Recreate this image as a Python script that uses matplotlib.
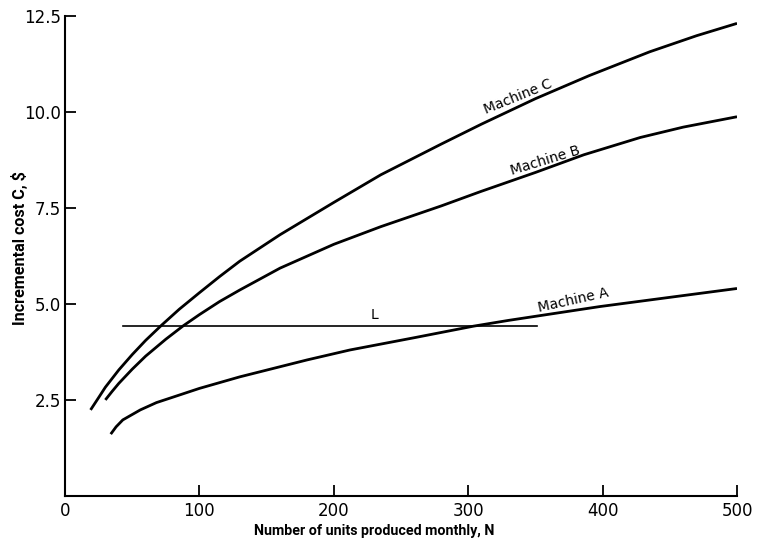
import matplotlib
matplotlib.use('Agg')
import matplotlib.pyplot as plt

# values
n_c = [19, 25, 30, 40, 50, 60, 72, 85, 100, 115, 130, 160, 200, 235, 280, 310, 350, 390, 435, 470, 500]
cost_c = [2.24, 2.56, 2.83, 3.28, 3.68, 4.05, 4.45, 4.86, 5.29, 5.71, 6.11, 6.8, 7.64, 8.36, 9.16, 9.68, 10.34, 10.94, 11.56, 11.98, 12.3]

n_b = [30, 35, 40, 50, 60, 75, 88, 100, 115, 130, 160, 200, 235, 280, 309, 350, 386, 428, 460, 500]
cost_b = [2.5, 2.72, 2.93, 3.3, 3.64, 4.08, 4.43, 4.72, 5.06, 5.36, 5.93, 6.55, 7.01, 7.55, 7.92, 8.42, 8.88, 9.33, 9.6, 9.87]

n_a = [34, 38, 43, 50, 56, 68, 81, 100, 130, 180, 212, 260, 304, 330, 398, 450, 500]
cost_a = [1.61, 1.8, 1.98, 2.12, 2.24, 2.43, 2.58, 2.8, 3.1, 3.54, 3.8, 4.12, 4.42, 4.57, 4.93, 5.17, 5.4]

l_start, l_end, l_cost = 43, 351, 4.43

x_ticks = [0, 100, 200, 300, 400, 500]
y_ticks = [2.5, 5.0, 7.5, 10.0, 12.5]

fig = plt.figure(figsize=(7.57, 5.43), dpi=100)
ax = fig.add_axes([0.0859, 0.0866, 0.8877, 0.8845])

ax.plot(n_c, cost_c, color='black', lw=2.0, solid_capstyle='butt', solid_joinstyle='round')
ax.plot(n_b, cost_b, color='black', lw=2.0, solid_capstyle='butt', solid_joinstyle='round')
ax.plot(n_a, cost_a, color='black', lw=2.0, solid_capstyle='butt', solid_joinstyle='round')
ax.plot([l_start, l_end], [l_cost, l_cost], color='black', lw=1.2)

ax.text(337, 10.39, 'Machine C', rotation=22, ha='center', va='center', fontsize=10)
ax.text(357, 8.74, 'Machine B', rotation=17, ha='center', va='center', fontsize=10)
ax.text(378, 5.10, 'Machine A', rotation=12.5, ha='center', va='center', fontsize=10)
ax.text(230, 4.72, 'L', ha='center', va='center', fontsize=10)

ax.set_xlim(0, 500)
ax.set_ylim(0, 12.5)
ax.set_xticks(x_ticks)
ax.set_xticklabels([str(v) for v in x_ticks])
ax.set_yticks(y_ticks)
ax.set_yticklabels([f'{v:.1f}' for v in y_ticks])
ax.tick_params(axis='both', direction='in', length=8, width=1.3, labelsize=12)
ax.tick_params(axis='x', pad=4)
ax.tick_params(axis='y', pad=3)

for side in ['top', 'right']:
    ax.spines[side].set_visible(False)
for side in ['left', 'bottom']:
    ax.spines[side].set_linewidth(1.5)

label_font = ['Roboto', 'DejaVu Sans']
fig.text(0.494, 0.022, 'Number of units produced monthly, N', ha='center', va='center',
         fontsize=10.3, fontweight='bold', family=label_font)
fig.text(0.026, 0.543, 'Incremental cost C, $', ha='center', va='center', rotation=90,
         fontsize=11.6, fontweight='bold', family=label_font)

fig.savefig('out.png', dpi=100)
